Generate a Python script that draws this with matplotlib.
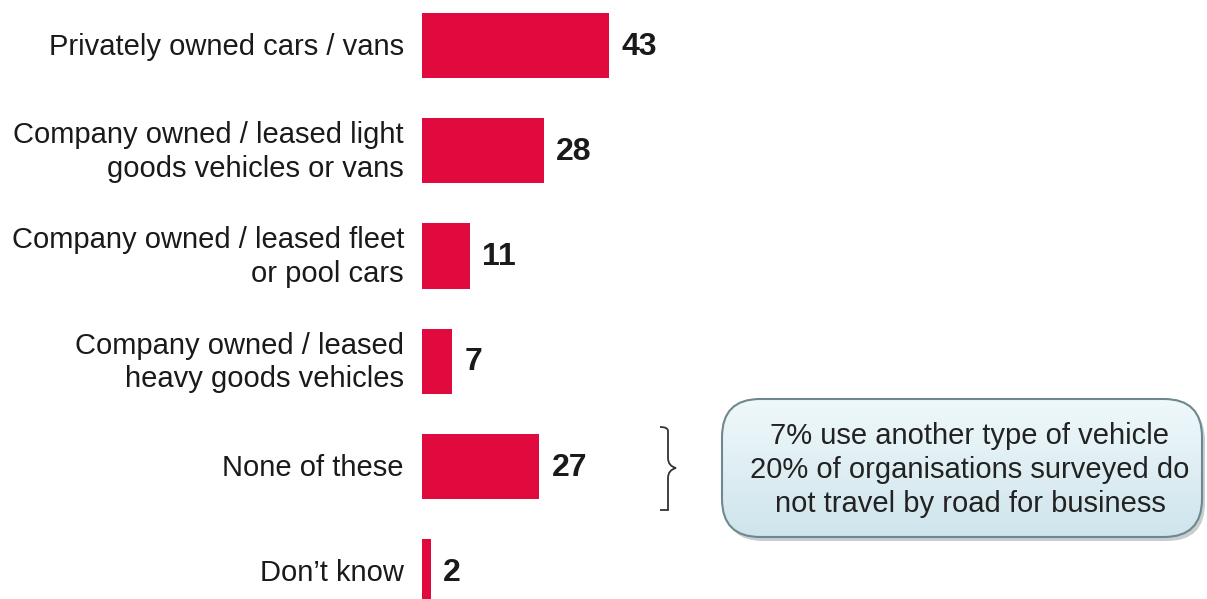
import matplotlib
matplotlib.use("Agg")
import matplotlib.pyplot as plt
import numpy as np
from matplotlib.patches import FancyBboxPatch
from matplotlib.path import Path
from matplotlib.patches import PathPatch

plt.rcParams['font.family'] = ['Liberation Sans', 'DejaVu Sans']

categories = [
    "Privately owned cars / vans",
    "Company owned / leased light\ngoods vehicles or vans",
    "Company owned / leased fleet\nor pool cars",
    "Company owned / leased\nheavy goods vehicles",
    "None of these",
    "Don\u2019t know",
]
values = [43, 28, 11, 7, 27, 2]
note_lines = [
    "7% use another type of vehicle",
    "20% of organisations surveyed do",
    "not travel by road for business",
]

W, H = 1207, 599
fig = plt.figure(figsize=(W / 100, H / 100), dpi=100)

# bar axes: left edge at the bar origin, spans the full height
x0 = 422
ax = fig.add_axes([x0 / W, 0, 1 - x0 / W, 1])
px_per_unit = 4.35
ax.set_xlim(0, (W - x0) / px_per_unit)
row = 105.3
first = 45.5
ax.set_ylim((H - first) / row, -first / row)
ax.axis("off")

bar_color = "#E00A3E"
ypos = np.arange(len(values))
ax.barh(ypos, values, height=0.62, color=bar_color, edgecolor="none")

for y, v, lab in zip(ypos, values, categories):
    ax.text(-18 / px_per_unit, y + 0.01, lab, ha="right", va="center",
            fontsize=21, color="#1a1a1a", linespacing=1.25)
    ax.text(v + 12 / px_per_unit, y + 0.01, str(v), ha="left", va="center",
            fontsize=23, fontweight="bold", color="#1a1a1a")

# figure-pixel overlay for the annotation
ov = fig.add_axes([0, 0, 1, 1])
ov.set_xlim(0, W)
ov.set_ylim(H, 0)
ov.axis("off")

# curly brace
bx, top, bot, mid = 660, 427, 510, 468
tip = 676
verts = [
    (bx, top), (bx + 8, top), (bx + 8, top + 4), (bx + 8, top + 10),
    (bx + 8, mid - 10), (bx + 8, mid - 2), (tip, mid),
    (bx + 8, mid + 2), (bx + 8, mid + 10),
    (bx + 8, bot - 10), (bx + 8, bot - 4), (bx + 8, bot), (bx, bot),
]
codes = [Path.MOVETO, Path.CURVE3, Path.CURVE3, Path.LINETO,
         Path.LINETO, Path.CURVE3, Path.CURVE3,
         Path.CURVE3, Path.CURVE3,
         Path.LINETO, Path.CURVE3, Path.CURVE3, Path.LINETO]
ov.add_patch(PathPatch(Path(verts, codes), fill=False, edgecolor="#333333", lw=1.3))

# rounded note box with soft shadow and vertical gradient
bx0, by0, bw, bh = 722, 399, 480, 138
r = 38
shadow = FancyBboxPatch((bx0 + 3, by0 + 4), bw, bh,
                        boxstyle=f"round,pad=0,rounding_size={r}",
                        facecolor="#9aa6ab", edgecolor="none", alpha=0.55)
ov.add_patch(shadow)
box = FancyBboxPatch((bx0, by0), bw, bh,
                     boxstyle=f"round,pad=0,rounding_size={r}",
                     facecolor="none", edgecolor="#6f8890", lw=1.5)
ov.add_patch(box)
grad = np.linspace(0, 1, 256).reshape(-1, 1)
c_top = np.array([0.94, 0.975, 0.985])
c_bot = np.array([0.81, 0.895, 0.925])
img = c_top + (c_bot - c_top) * grad[..., None]
im = ov.imshow(img, extent=(bx0, bx0 + bw, by0 + bh, by0), aspect="auto",
               zorder=1.5, interpolation="bilinear")
im.set_clip_path(box)
box.set_zorder(2)

for i, line in enumerate(note_lines):
    ov.text(970, 436 + i * 34, line, ha="center", va="center",
            fontsize=21, color="#222222", zorder=3)

fig.savefig("out.png", dpi=100)
